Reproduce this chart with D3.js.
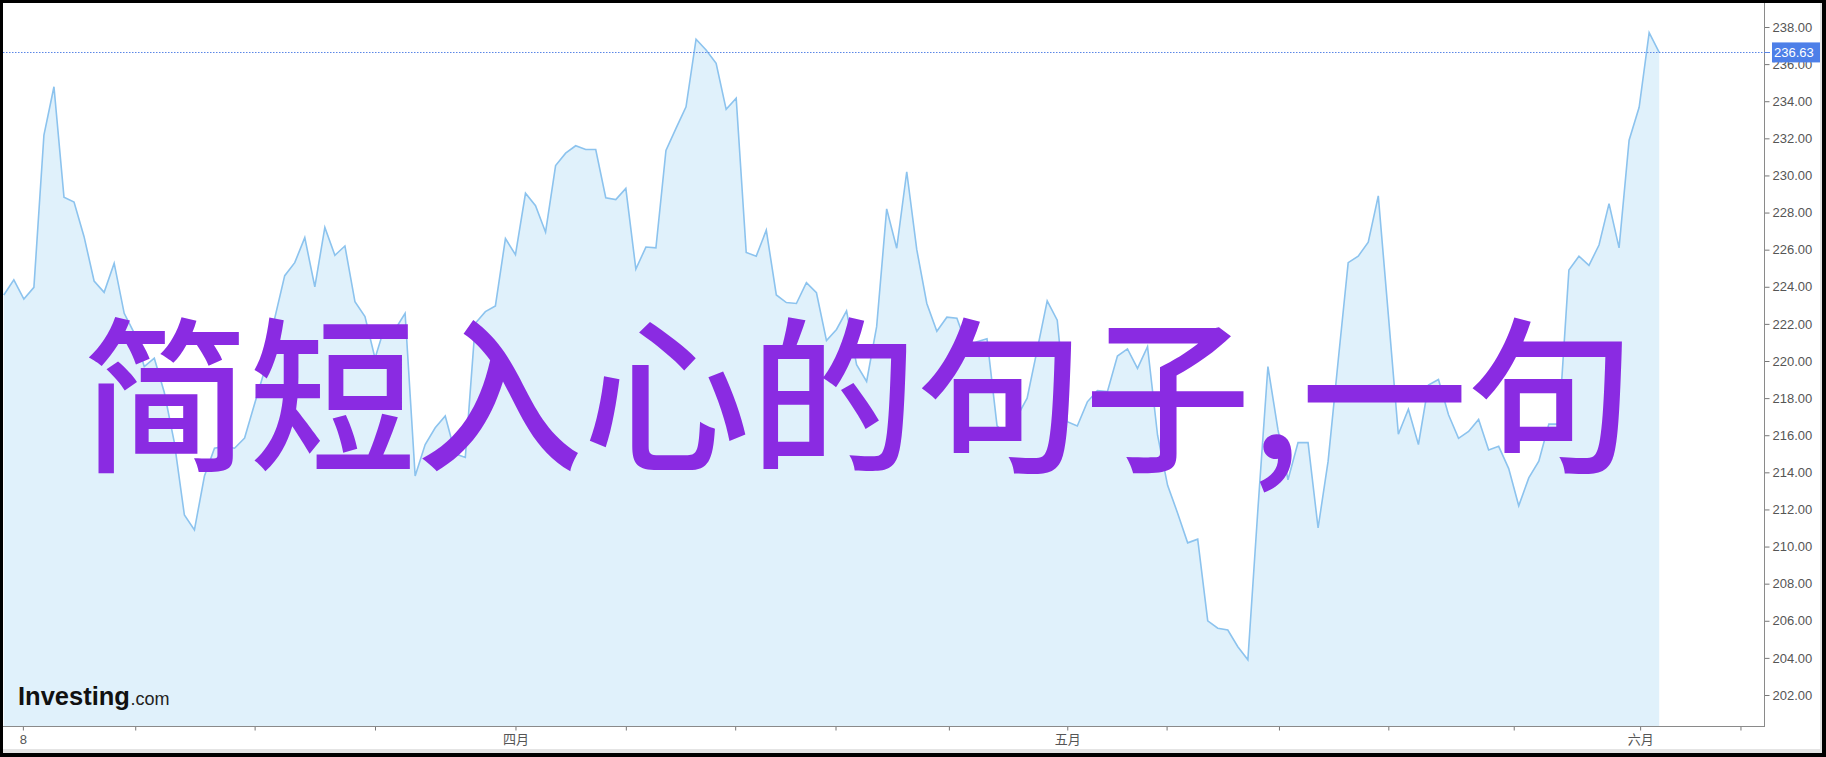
<!DOCTYPE html>
<html>
<head>
<meta charset="utf-8">
<script src="https://cdn.jsdelivr.net/npm/d3@7"></script>
<style>
  html, body { margin: 0; padding: 0; background: #fff; }
  svg { display: block; }
</style>
</head>
<body>
<svg id="chart" width="1826" height="757"></svg>
<script>
// ---------------- DATA ----------------
const prices = [
  223.56, 224.37, 223.34, 223.97, 232.18, 234.78, 228.82, 228.57, 226.70, 224.31,
  223.70, 225.27, 222.57, 221.50, 219.70, 220.15, 218.30, 215.60, 211.70, 210.90,
  213.80, 215.30, 215.40, 215.30, 215.85, 217.70, 219.50, 222.30, 224.60, 225.30,
  226.65, 224.00, 227.20, 225.70, 226.20, 223.20, 222.40, 220.15, 221.90, 221.70,
  222.57, 213.80, 215.50, 216.40, 217.04, 215.00, 214.80, 222.03, 222.66, 222.97,
  226.60, 225.73, 229.04, 228.37, 226.94, 230.53, 231.20, 231.60, 231.40, 231.40,
  228.80, 228.70, 229.30, 224.95, 226.14, 226.10, 231.35, 232.54, 233.70, 237.34,
  236.76, 236.04, 233.56, 234.16, 225.85, 225.65, 227.05, 223.56, 223.15, 223.10,
  224.22, 223.68, 221.10, 221.70, 222.70, 219.80, 218.90, 221.85, 228.20, 226.08,
  230.20, 226.00, 223.10, 221.60, 222.36, 222.30, 220.80, 221.04, 221.20, 216.50,
  216.00, 217.00, 218.00, 220.60, 223.24, 222.20, 216.73, 216.50, 217.80, 218.40,
  218.35, 220.27, 220.65, 219.60, 220.77, 216.00, 213.30, 211.80, 210.20, 210.40,
  206.00, 205.60, 205.50, 204.60, 203.90, 212.00, 219.70, 216.30, 213.60, 215.60,
  215.60, 211.00, 214.60, 220.00, 225.30, 225.65, 226.40, 228.90, 222.50, 216.05,
  217.40, 215.50, 218.70, 219.00, 217.10, 215.83, 216.20, 216.85, 215.20, 215.40,
  214.20, 212.20, 213.70, 214.60, 216.60, 216.60, 224.90, 225.65, 225.15, 226.25,
  228.48, 226.10, 231.90, 233.67, 237.70, 236.63
];
const xTickIndex  = [1.9, 13.1, 25, 37, 51, 62, 72.9, 82.9, 94.2, 106, 115.9, 127.1, 138, 150.5, 163.1, 173.1];
const xTickLabels = ["8", "", "", "", "四月", "", "", "", "", "五月", "", "", "", "", "六月", ""];
const yTicks = [202, 204, 206, 208, 210, 212, 214, 216, 218, 220, 222, 224, 226, 228, 230, 232, 234, 236, 238];
const lastPrice = 236.63;
const overlayText = "简短入心的句子,一句";
const brandBold = "Investing";
const brandLight = ".com";

// ---------------- LAYOUT ----------------
const W = 1826, H = 757;
const plot = { left: 3, top: 3, right: 1764, bottom: 726 };

const svg = d3.select("#chart");

const x = d3.scaleLinear().domain([0, prices.length - 1]).range([3.8, 1659.2]);
const y = d3.scaleLinear().domain([202, 238]).range([695, 27]);

svg.append("rect").attr("x", 0).attr("y", 0).attr("width", W).attr("height", H).attr("fill", "#fff");

svg.append("defs").append("clipPath").attr("id", "plotClip")
  .append("rect").attr("x", plot.left).attr("y", plot.top)
  .attr("width", plot.right - plot.left).attr("height", plot.bottom - plot.top);

const g = svg.append("g").attr("clip-path", "url(#plotClip)");

const area = d3.area()
  .x((d, i) => x(i))
  .y0(plot.bottom)
  .y1(d => y(d));
const line = d3.line()
  .x((d, i) => x(i))
  .y(d => y(d));

g.append("path").datum(prices).attr("d", area).attr("fill", "#e0f1fb");
g.append("path").datum(prices).attr("d", line)
  .attr("fill", "none").attr("stroke", "#8cc3ee").attr("stroke-width", 1.6)
  .attr("stroke-linejoin", "miter");

// last price dotted line
g.append("line")
  .attr("x1", plot.left).attr("x2", plot.right)
  .attr("y1", Math.round(y(lastPrice)) + 0.5).attr("y2", Math.round(y(lastPrice)) + 0.5)
  .attr("stroke", "#5a86e6").attr("stroke-width", 1).attr("stroke-dasharray", "1.5,1.5");

// Investing.com brand
const brand = svg.append("text").attr("x", 18).attr("y", 705)
  .attr("font-family", "Liberation Sans, Arial, sans-serif");
brand.append("tspan").text(brandBold).attr("font-weight", "bold").attr("font-size", 25.5)
  .attr("fill", "#111");
brand.append("tspan").text(brandLight).attr("font-size", 18).attr("fill", "#222").attr("dx", 0.5);

// overlay headline
svg.append("text")
  .attr("x", 82).attr("y", 459)
  .attr("font-family", "'Noto Sans CJK SC', 'Noto Sans CJK JP', sans-serif")
  .attr("font-weight", 500)
  .attr("font-size", 167)
  .attr("fill", "#8a2be2")
  .text(overlayText);

// right axis
const yAxis = d3.axisRight(y).tickValues(yTicks).tickFormat(d3.format(".2f")).tickSize(5).tickPadding(3);
const ya = svg.append("g").attr("transform", `translate(${plot.right + 0.5},0)`).call(yAxis);
ya.select(".domain").remove();
ya.selectAll(".tick line").attr("stroke", "#777");
ya.selectAll(".tick text").attr("fill", "#555").attr("font-size", 13)
  .attr("font-family", "Liberation Sans, Arial, sans-serif");

svg.append("line").attr("x1", plot.right + 0.5).attr("x2", plot.right + 0.5)
  .attr("y1", plot.top).attr("y2", plot.bottom + 1).attr("stroke", "#8a8a8a").attr("stroke-width", 1);

// bottom axis
const xAxis = d3.axisBottom(x).tickValues(xTickIndex).tickFormat((d, i) => xTickLabels[i]).tickSize(4).tickPadding(4);
const xa = svg.append("g").attr("transform", `translate(0,${plot.bottom + 0.5})`).call(xAxis);
xa.select(".domain").remove();
xa.selectAll(".tick line").attr("stroke", "#777");
xa.selectAll(".tick text").attr("fill", "#555").attr("font-size", 13)
  .attr("font-family", "Liberation Sans, 'Noto Sans CJK SC', Arial, sans-serif");

svg.append("line").attr("x1", plot.left).attr("x2", plot.right + 1)
  .attr("y1", plot.bottom + 0.5).attr("y2", plot.bottom + 0.5).attr("stroke", "#8a8a8a").attr("stroke-width", 1);

// last price label
const ly = y(lastPrice);
svg.append("line").attr("x1", plot.right).attr("x2", plot.right + 6)
  .attr("y1", Math.round(ly) + 0.5).attr("y2", Math.round(ly) + 0.5).attr("stroke", "#5a86e6");
svg.append("rect").attr("x", 1772).attr("y", ly - 10).attr("width", 48).attr("height", 20)
  .attr("fill", "#4d7fe8");
svg.append("text").attr("x", 1774).attr("y", ly).attr("dy", "0.35em")
  .attr("font-family", "Liberation Sans, Arial, sans-serif").attr("font-size", 13)
  .attr("fill", "#fff").text(d3.format(".2f")(lastPrice));

// outer frame (grey inner strip + black border)
svg.append("rect").attr("x", 3).attr("y", 749).attr("width", 1819).attr("height", 4).attr("fill", "#e4e4e4");
svg.append("rect").attr("x", 1820).attr("y", 3).attr("width", 2).attr("height", 750).attr("fill", "#e4e4e4");
svg.append("rect").attr("x", 1.5).attr("y", 1.5).attr("width", W - 3).attr("height", H - 3)
  .attr("fill", "none").attr("stroke", "#000").attr("stroke-width", 3);
svg.append("rect").attr("x", 1822).attr("y", 0).attr("width", 4).attr("height", H).attr("fill", "#000");
svg.append("rect").attr("x", 0).attr("y", 753).attr("width", W).attr("height", 4).attr("fill", "#000");
</script>
</body>
</html>
